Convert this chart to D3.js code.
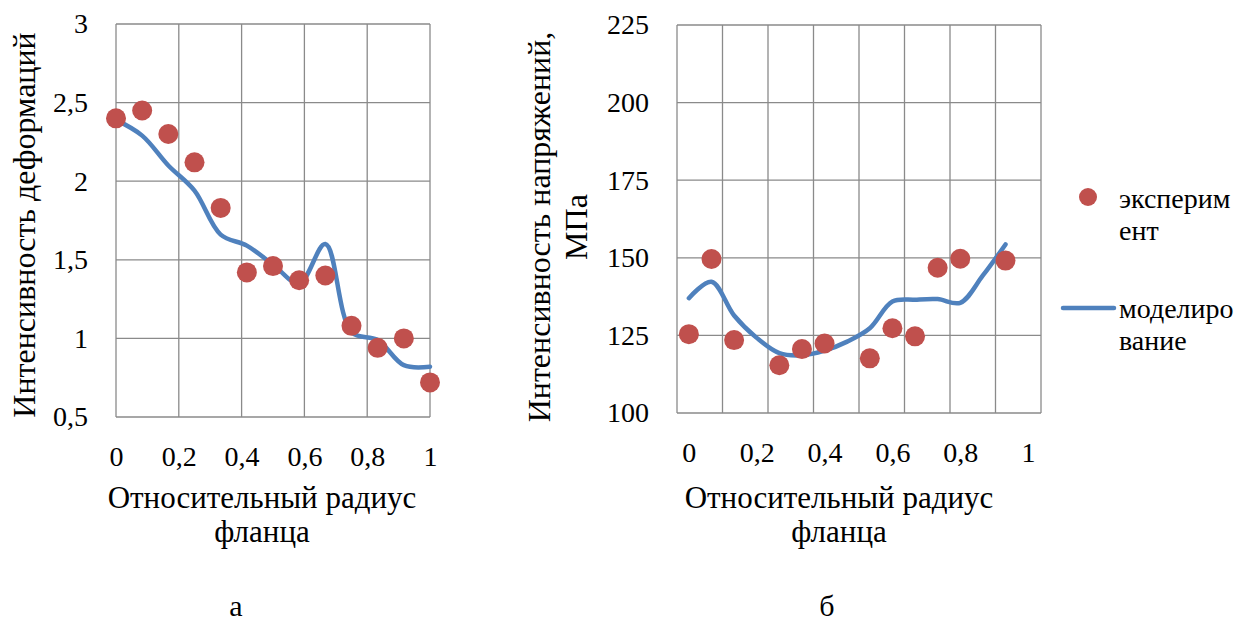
<!DOCTYPE html>
<html>
<head>
<meta charset="utf-8">
<script src="https://cdn.jsdelivr.net/npm/d3@7"></script>
<style>
  body { margin: 0; background: #fff; }
  svg text { font-family: "Liberation Serif", "DejaVu Serif", "Times New Roman", serif; fill: #000; }
</style>
</head>
<body>
<div id="chart"></div>
<script>
// ---- data: chart a (strain intensity) ----
var xA = [0, 1/12, 2/12, 3/12, 4/12, 5/12, 6/12, 7/12, 8/12, 9/12, 10/12, 11/12, 1];
var expA = [2.40, 2.45, 2.30, 2.12, 1.83, 1.42, 1.46, 1.37, 1.40, 1.08, 0.94, 1.00, 0.72];
var modA = [2.39, 2.29, 2.10, 1.94, 1.66, 1.59, 1.47, 1.35, 1.60, 1.04, 0.99, 0.83, 0.82];
var yTicksA = [0.5, 1, 1.5, 2, 2.5, 3];
var xTicks = [0, 0.2, 0.4, 0.6, 0.8, 1];

// ---- data: chart b (stress intensity, MPa) ----
var xExpB = [0, 1/15, 2/15, 4/15, 5/15, 6/15, 8/15, 9/15, 10/15, 11/15, 12/15, 14/15];
var expB = [125.4, 149.6, 123.5, 115.4, 120.6, 122.4, 117.6, 127.3, 124.7, 146.8, 149.7, 149.1];
var xModB = [0, 1/15, 2/15, 3/15, 4/15, 5/15, 6/15, 7/15, 8/15, 9/15, 10/15, 11/15, 12/15, 13/15, 14/15];
var modB = [137, 142.3, 131.4, 124.2, 119.3, 118.6, 120.1, 123.0, 127.3, 135.9, 136.5, 136.7, 135.5, 144.3, 154.3];
var yTicksB = [100, 125, 150, 175, 200, 225];

var legendNames = [["эксперим", "ент"], ["моделиро", "вание"]];
var xTitle = ["Относительный радиус", "фланца"];

var red = "#C0504D", blue = "#4F81BD", grid = "#8a8a8a";
var fs = 28, fsTitle = 31, fsYTitle = 32, fsLetter = 30;

var svg = d3.select("#chart").append("svg")
    .attr("width", 1246)
    .attr("height", 626);
svg.append("rect").attr("width", 1246).attr("height", 626).attr("fill", "#fff");

var comma = d => String(d).replace(".", ",");

function drawChart(cfg) {
    var g = svg.append("g");
    var x = cfg.x, y = cfg.y;
    var x0 = x.range()[0], x1 = x.range()[1];
    var y0 = y.range()[0], y1 = y.range()[1];

    // grid
    g.selectAll(".vg").data(cfg.xGrid).enter().append("line")
        .attr("x1", d => x(d)).attr("x2", d => x(d))
        .attr("y1", y0).attr("y2", y1)
        .attr("stroke", grid).attr("stroke-width", 1.3);
    g.selectAll(".hg").data(cfg.yTicks).enter().append("line")
        .attr("x1", x0).attr("x2", x1)
        .attr("y1", d => y(d)).attr("y2", d => y(d))
        .attr("stroke", grid).attr("stroke-width", 1.3);

    // axes labels
    var ay = g.append("g").attr("transform", "translate(" + x0 + ",0)")
        .call(d3.axisLeft(y).tickValues(cfg.yTicks).tickSize(0).tickPadding(28).tickFormat(comma));
    var ax = g.append("g").attr("transform", "translate(0," + y0 + ")")
        .call(d3.axisBottom(x).tickValues(xTicks).tickSize(0).tickPadding(29).tickFormat(comma));
    [ax, ay].forEach(a => {
        a.attr("font-family", null).attr("font-size", null);
        a.select(".domain").remove();
        a.selectAll("text").style("font-size", fs + "px").attr("fill", "#000");
    });

    // model line
    g.append("path")
        .datum(cfg.mod)
        .attr("fill", "none")
        .attr("stroke", blue)
        .attr("stroke-width", 4.5)
        .attr("stroke-linecap", "round")
        .attr("d", d3.line().x(d => x(d[0])).y(d => y(d[1])).curve(d3.curveCatmullRom.alpha(0.5)));

    // experiment points
    g.selectAll(".pt").data(cfg.exp).enter().append("circle")
        .attr("cx", d => x(d[0]))
        .attr("cy", d => y(d[1]))
        .attr("r", 10)
        .attr("fill", red);

    // x title
    g.selectAll(".xt").data(xTitle).enter().append("text")
        .attr("x", cfg.titleX)
        .attr("y", (d, i) => 508 + i * 34)
        .attr("text-anchor", "middle")
        .style("font-size", fsTitle + "px")
        .text(d => d);

    // y title
    var yt = g.append("text")
        .attr("transform", "translate(" + cfg.yTitleX + "," + cfg.yTitleY + ") rotate(-90)")
        .attr("text-anchor", "middle")
        .style("font-size", fsYTitle + "px");
    cfg.yTitle.forEach((t, i) => {
        yt.append("tspan").attr("x", 0).attr("dy", i === 0 ? 0 : cfg.yTitleGap).text(t);
    });

    // panel letter
    g.append("text")
        .attr("x", cfg.letterX).attr("y", 616)
        .attr("text-anchor", "middle")
        .style("font-size", fsLetter + "px")
        .text(cfg.letter);
}

// chart a
var xScaleA = d3.scaleLinear().domain([0, 1]).range([116, 430]);
var yScaleA = d3.scaleLinear().domain([0.5, 3]).range([417, 24]);
drawChart({
    x: xScaleA, y: yScaleA,
    xGrid: xTicks, yTicks: yTicksA,
    exp: xA.map((v, i) => [v, expA[i]]),
    mod: xA.map((v, i) => [v, modA[i]]),
    titleX: 262,
    yTitle: ["Интенсивность деформаций"], yTitleX: 35, yTitleY: 225, yTitleGap: 0,
    letter: "а", letterX: 236
});

// chart b
var xMinB = -0.035, xMaxB = 1.038;
var xScaleB = d3.scaleLinear().domain([xMinB, xMaxB]).range([677, 1041]);
var yScaleB = d3.scaleLinear().domain([100, 225]).range([413, 25]);
drawChart({
    x: xScaleB, y: yScaleB,
    xGrid: d3.range(9).map(i => xMinB + i * (xMaxB - xMinB) / 8), yTicks: yTicksB,
    exp: xExpB.map((v, i) => [v, expB[i]]),
    mod: xModB.map((v, i) => [v, modB[i]]),
    titleX: 839,
    yTitle: ["Интенсивность напряжений,", "МПа"], yTitleX: 550, yTitleY: 227, yTitleGap: 37,
    letter: "б", letterX: 827
});

// legend
var lg = svg.append("g");
lg.append("circle").attr("cx", 1088).attr("cy", 197).attr("r", 9).attr("fill", red);
lg.append("line").attr("x1", 1063).attr("x2", 1114).attr("y1", 308).attr("y2", 308)
    .attr("stroke", blue).attr("stroke-width", 4.5).attr("stroke-linecap", "round");
legendNames.forEach((lines, k) => {
    lines.forEach((t, i) => {
        lg.append("text")
            .attr("x", 1119)
            .attr("y", (k === 0 ? 208 : 318) + i * 32)
            .style("font-size", fs + "px")
            .text(t);
    });
});
</script>
</body>
</html>
